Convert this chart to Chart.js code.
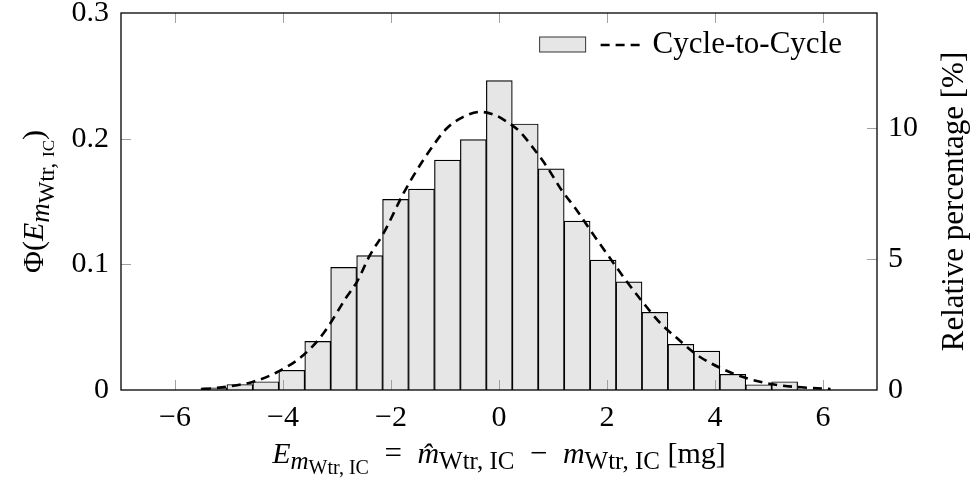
<!DOCTYPE html>
<html lang="en">
<head>
<meta charset="UTF-8">
<title>Cycle-to-Cycle error distribution</title>
<script src="https://cdn.jsdelivr.net/npm/chart.js@4"></script>
<style>
  html, body { margin: 0; padding: 0; background: #fff; }
  #wrap { width: 979px; height: 488px; }
</style>
</head>
<body>
<div id="wrap"><canvas id="chart" width="979" height="488"></canvas></div>
<script>
// histogram: bin centres [mg] and heights (density)
const binCenters = [-5.279, -4.799, -4.318, -3.838, -3.357, -2.877, -2.396, -1.916, -1.436, -0.955, -0.475, 0.006,
                    0.486, 0.967, 1.447, 1.928, 2.408, 2.888, 3.369, 3.849, 4.330, 4.810, 5.290];
const binDensity = [0.0018, 0.0044, 0.0066, 0.0157, 0.0387, 0.0976, 0.1069, 0.1517, 0.1598, 0.1829, 0.1992, 0.2462,
                    0.2117, 0.1760, 0.1344, 0.1034, 0.0861, 0.0618, 0.0364, 0.0309, 0.0125, 0.0042, 0.0066];
const binWidth = 0.4804;

// dashed fit curve
const curveX = [-5.5, -5.29, -5.04, -4.55, -4.09, -3.62, -3.25, -2.82, -2.63, -2.39, -2.14, -1.77, -1.52, -1.28, -0.97,
                -0.66, -0.35, -0.07, 0.15, 0.39, 0.64, 0.89, 1.16, 1.44, 1.69, 2.06, 2.37, 2.68, 2.99, 3.30, 3.67,
                4.11, 4.59, 5.15, 5.71, 6.14];
const curveY = [0.0008, 0.0014, 0.0026, 0.0066, 0.0146, 0.0278, 0.0451, 0.0742, 0.0861, 0.1073, 0.1246, 0.1564, 0.1750,
                0.1908, 0.2081, 0.2173, 0.2213, 0.2187, 0.2133, 0.2054, 0.1922, 0.1775, 0.1590, 0.1431, 0.1272, 0.1047,
                0.0861, 0.0689, 0.0531, 0.0411, 0.0278, 0.0173, 0.0093, 0.0040, 0.0018, 0.0008];

const xRange = [-7, 7];
const xTicks = [-6, -4, -2, 0, 2, 4, 6];
const yMax = 0.3;
const yStep = 0.1;
const pctStep = 5;
const legendLabel = 'Cycle-to-Cycle';

const serif = '"Liberation Serif", "Times New Roman", serif';
const f = (style, size) => style + ' ' + size + 'px ' + serif;

// axis titles as runs of text (subscripts shifted down)
const xTitle = [
  { t: 'E', f: f('italic', 30), dy: 0 },
  { t: 'm', f: f('italic', 25), dy: 6 },
  { t: 'Wtr, IC', f: f('normal', 20), dy: 11 },
  { t: '\u2002=\u2002', f: f('normal', 31), dy: 0 },
  { t: 'm\u0302', f: f('italic', 30), dy: 0 },
  { t: 'Wtr, IC', f: f('normal', 25), dy: 6 },
  { t: '\u2002\u2212\u2002', f: f('normal', 31), dy: 0 },
  { t: 'm', f: f('italic', 30), dy: 0 },
  { t: 'Wtr, IC', f: f('normal', 25), dy: 6 },
  { t: ' [mg]', f: f('normal', 30), dy: 0 }
];
const yTitle = [
  { t: '\u03A6(', f: f('normal', 30), dy: 0 },
  { t: 'E', f: f('italic', 30), dy: 0 },
  { t: 'm', f: f('italic', 27), dy: 6 },
  { t: 'Wtr, ', f: f('normal', 23), dy: 11 },
  { t: 'IC', f: f('normal', 17), dy: 11 },
  { t: ')', f: f('normal', 30), dy: 0 }
];
const y2Title = [{ t: 'Relative percentage [%]', f: f('normal', 31), dy: 0 }];

function drawRuns(ctx, runs, x, y, rotate) {
  ctx.save();
  ctx.translate(x, y);
  if (rotate) ctx.rotate(-Math.PI / 2);
  ctx.fillStyle = '#000';
  ctx.textAlign = 'left';
  ctx.textBaseline = 'alphabetic';
  let total = 0;
  runs.forEach(r => { ctx.font = r.f; r.w = ctx.measureText(r.t).width; total += r.w; });
  let cx = -total / 2;
  runs.forEach(r => { ctx.font = r.f; ctx.fillText(r.t, cx, r.dy); cx += r.w; });
  ctx.restore();
}

const framePlugin = {
  id: 'frame',
  afterDatasetsDraw(chart) {
    const { ctx, chartArea: a, scales } = chart;
    const L = 10;
    ctx.save();
    ctx.strokeStyle = '#a0a0a0';
    ctx.lineWidth = 1;
    const seg = (x1, y1, x2, y2) => { ctx.beginPath(); ctx.moveTo(x1, y1); ctx.lineTo(x2, y2); ctx.stroke(); };
    scales.x.ticks.forEach(t => {
      const px = Math.round(scales.x.getPixelForValue(t.value)) + 0.5;
      if (px <= a.left + 1 || px >= a.right - 1) return;
      seg(px, a.bottom, px, a.bottom - L);
      seg(px, a.top, px, a.top + L);
    });
    scales.y.ticks.forEach(t => {
      const py = Math.round(scales.y.getPixelForValue(t.value)) + 0.5;
      if (py <= a.top + 1 || py >= a.bottom - 1) return;
      seg(a.left, py, a.left + L, py);
    });
    scales.y2.ticks.forEach(t => {
      const py = Math.round(scales.y2.getPixelForValue(t.value)) + 0.5;
      if (py <= a.top + 1 || py >= a.bottom - 1) return;
      seg(a.right, py, a.right - L, py);
    });
    ctx.strokeStyle = '#000';
    ctx.lineWidth = 1.3;
    ctx.strokeRect(a.left, a.top, a.right - a.left, a.bottom - a.top);

    // legend, top right inside the axes
    ctx.font = f('normal', 31);
    const tw = ctx.measureText(legendLabel).width;
    const tx = a.right - 35 - tw;
    const ly = a.top + 32;
    ctx.fillStyle = '#000';
    ctx.textBaseline = 'middle';
    ctx.fillText(legendLabel, tx, ly);
    ctx.lineWidth = 2.6;
    ctx.setLineDash([9, 6]);
    seg(tx - 52, ly, tx - 10, ly);
    ctx.setLineDash([]);
    ctx.fillStyle = '#e6e6e6';
    ctx.fillRect(tx - 113, ly - 8, 46, 15);
    ctx.strokeStyle = '#333';
    ctx.lineWidth = 1;
    ctx.strokeRect(tx - 113, ly - 8, 46, 15);
    ctx.restore();
  },
  afterDraw(chart) {
    const { ctx, chartArea: a } = chart;
    const midX = (a.left + a.right) / 2;
    const midY = (a.top + a.bottom) / 2;
    drawRuns(ctx, xTitle, midX, 463, false);
    drawRuns(ctx, yTitle, 43, midY, true);
    drawRuns(ctx, y2Title, 963, midY, true);
  }
};

const tickFont = { family: 'Liberation Serif', size: 30 };
const minus = v => (v < 0 ? '\u2212' + Math.abs(v) : String(v));

new Chart(document.getElementById('chart'), {
  type: 'bar',
  data: {
    datasets: [
      {
        type: 'line',
        label: legendLabel,
        data: curveX.map((x, i) => ({ x: x, y: curveY[i] })),
        borderColor: '#000',
        borderWidth: 2.6,
        borderDash: [9, 6],
        pointRadius: 0,
        fill: false,
        cubicInterpolationMode: 'monotone',
        yAxisID: 'y',
        order: 0
      },
      {
        label: legendLabel,
        data: binCenters.map((x, i) => ({ x: x, y: binDensity[i] })),
        backgroundColor: '#e6e6e6',
        borderColor: '#000',
        borderWidth: 1.2,
        borderSkipped: 'start',
        barPercentage: 1,
        categoryPercentage: 1,
        yAxisID: 'y',
        order: 1
      }
    ]
  },
  options: {
    responsive: false,
    animation: false,
    devicePixelRatio: 1,
    layout: { padding: { top: 13 } },
    plugins: { legend: { display: false }, tooltip: { enabled: false } },
    scales: {
      x: {
        type: 'linear',
        offset: false,
        min: xRange[0],
        max: xRange[1],
        grid: { display: false, drawTicks: false },
        border: { display: false },
        ticks: { font: tickFont, color: '#000', padding: 10, maxRotation: 0, autoSkip: false, callback: minus },
        afterBuildTicks: s => { s.ticks = xTicks.map(v => ({ value: v })); },
        afterFit: s => { s.height = 98; s.paddingLeft = 0; s.paddingRight = 0; }
      },
      y: {
        position: 'left',
        min: 0,
        max: yMax,
        grid: { display: false, drawTicks: false },
        border: { display: false },
        ticks: { stepSize: yStep, font: tickFont, color: '#000', padding: 12, callback: v => (v === 0 ? '0' : v.toFixed(1)) },
        afterFit: s => { s.width = 121; s.paddingTop = 0; s.paddingBottom = 0; }
      },
      y2: {
        position: 'right',
        min: 0,
        max: yMax * binWidth * 100,
        grid: { display: false, drawTicks: false },
        border: { display: false },
        ticks: { stepSize: pctStep, includeBounds: false, font: tickFont, color: '#000', padding: 11 },
        afterFit: s => { s.width = 102; s.paddingTop = 0; s.paddingBottom = 0; }
      }
    }
  },
  plugins: [framePlugin]
});
</script>
</body>
</html>
